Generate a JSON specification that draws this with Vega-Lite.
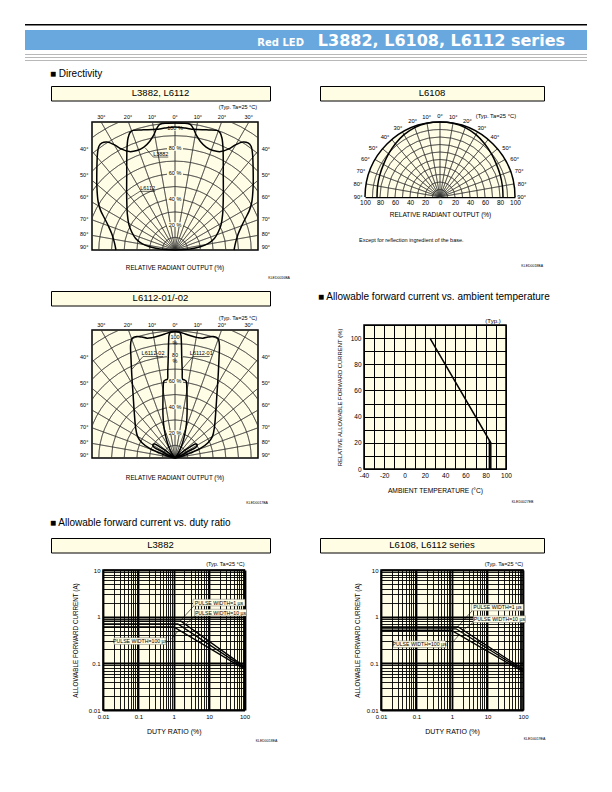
{
"$schema":"https://vega.github.io/schema/vega-lite/v6.json",
"padding":0,
"background":"white",
"spacing":0,
"bounds":"flush",
"config":{
 "view":{"stroke":null},
 "font":"Liberation Sans",
 "text":{"color":"black","font":"Liberation Sans"},
 "axis":{"labelFont":"Liberation Sans","titleFont":"Liberation Sans","labelColor":"black","titleColor":"black","titleFontWeight":"normal"}
},
"datasets":{
 "rings13":[{"r":10},{"r":20},{"r":30},{"r":40},{"r":50},{"r":60},{"r":70},{"r":80},{"r":90},{"r":100},{"r":110},{"r":120},{"r":130}],
 "rings10":[{"r":10},{"r":20},{"r":30},{"r":40},{"r":50},{"r":60},{"r":70},{"r":80},{"r":90}],
 "rad17":[{"a":-80},{"a":-70},{"a":-60},{"a":-50},{"a":-40},{"a":-30},{"a":-20},{"a":-10},{"a":0},{"a":10},{"a":20},{"a":30},{"a":40},{"a":50},{"a":60},{"a":70},{"a":80}],
 "ang":[{"t":"30°","x":-58,"y":104.7},{"t":"20°","x":-37,"y":104.7},{"t":"10°","x":-18,"y":104.7},{"t":"0°","x":0,"y":104.7},{"t":"10°","x":18,"y":104.7},{"t":"20°","x":37,"y":104.7},{"t":"30°","x":58,"y":104.7},
  {"t":"40°","x":-71.5,"y":79.5},{"t":"50°","x":-71.5,"y":59.1},{"t":"60°","x":-71.5,"y":41.7},{"t":"70°","x":-71.5,"y":24.4},{"t":"80°","x":-71.5,"y":12.6},{"t":"90°","x":-71.5,"y":2.4},
  {"t":"40°","x":71.5,"y":79.5},{"t":"50°","x":71.5,"y":59.1},{"t":"60°","x":71.5,"y":41.7},{"t":"70°","x":71.5,"y":24.4},{"t":"80°","x":71.5,"y":12.6},{"t":"90°","x":71.5,"y":2.4}],
 "ang8":[{"t":"0°","x":0,"y":108.4},{"t":"10°","x":-17.7,"y":107},{"t":"10°","x":17.7,"y":107},{"t":"20°","x":-36.5,"y":101.3},{"t":"20°","x":36.5,"y":101.3},{"t":"30°","x":-56,"y":92.4},{"t":"30°","x":56,"y":92.4},{"t":"40°","x":-73.3,"y":79.5},{"t":"40°","x":73.3,"y":79.5},{"t":"50°","x":-89,"y":65.7},{"t":"50°","x":89,"y":65.7},{"t":"60°","x":-99.5,"y":51},{"t":"60°","x":99.5,"y":51},{"t":"70°","x":-105.5,"y":34.7},{"t":"70°","x":105.5,"y":34.7},{"t":"80°","x":-109.5,"y":17.7},{"t":"80°","x":109.5,"y":17.7},{"t":"90°","x":-109,"y":0},{"t":"90°","x":109,"y":0}],
 "p1pct":[{"t":"100 %","x":0,"y":95.8},{"t":"80 %","x":0,"y":80},{"t":"60 %","x":0,"y":60.3},{"t":"40 %","x":0,"y":40.3},{"t":"20 %","x":0,"y":20}],
 "p3pct":[{"t":"100\n%","x":0,"y":95},{"t":"80\n%","x":0,"y":81},{"t":"60 %","x":0,"y":60.3},{"t":"40 %","x":0,"y":40.3},{"t":"20 %","x":0,"y":20}],
 "p1lead":[{"g":"a","i":0,"x":-23.5,"y":80.5},{"g":"a","i":1,"x":-17.1,"y":73.2},{"g":"a","i":2,"x":-5.3,"y":73.2},{"g":"b","i":0,"x":-37.3,"y":40},{"g":"b","i":1,"x":-27.6,"y":46.2},{"g":"b","i":2,"x":-15.7,"y":46.2}],
 "p1ann":[{"t":"L3882","x":-11.2,"y":75.9},{"t":"L6112","x":-21.6,"y":48.9}],
 "p3lead":[{"g":"a","i":0,"x":-33.8,"y":70},{"g":"a","i":1,"x":-25.2,"y":79.9},{"g":"a","i":2,"x":-9.4,"y":79.9},{"g":"b","i":0,"x":5.6,"y":70},{"g":"b","i":1,"x":14.2,"y":79.9},{"g":"b","i":2,"x":27.3,"y":79.9}],
 "p3ann":[{"t":"L6112-02","x":-17.3,"y":82.6},{"t":"L6112-01","x":20.7,"y":82.6}],
 "p1c":[
  {"c":"A","i":0,"x":-46.5,"y":0},{"c":"A","i":1,"x":-47.5,"y":5},{"c":"A","i":2,"x":-49.5,"y":12},{"c":"A","i":3,"x":-52.5,"y":19},{"c":"A","i":4,"x":-55.5,"y":25},{"c":"A","i":5,"x":-58.5,"y":31},{"c":"A","i":6,"x":-60.5,"y":38},{"c":"A","i":7,"x":-61.5,"y":50},{"c":"A","i":8,"x":-61.5,"y":65},{"c":"A","i":9,"x":-61,"y":76},{"c":"A","i":10,"x":-60,"y":81.5},{"c":"A","i":11,"x":-57.5,"y":84.3},{"c":"A","i":12,"x":-53.5,"y":85},{"c":"A","i":13,"x":-48,"y":83},{"c":"A","i":14,"x":-42,"y":79.5},{"c":"A","i":15,"x":-36,"y":77.5},{"c":"A","i":16,"x":-30,"y":78.3},{"c":"A","i":17,"x":-24.5,"y":81},{"c":"A","i":18,"x":-20,"y":85.5},{"c":"A","i":19,"x":-17,"y":90},{"c":"A","i":20,"x":-14.5,"y":95.5},{"c":"A","i":21,"x":-12,"y":99},{"c":"A","i":22,"x":-6,"y":99.8},{"c":"A","i":23,"x":0,"y":100},
  {"c":"A","i":24,"x":6,"y":99.8},{"c":"A","i":25,"x":12,"y":99},{"c":"A","i":26,"x":14.5,"y":95.5},{"c":"A","i":27,"x":17,"y":90},{"c":"A","i":28,"x":20,"y":85.5},{"c":"A","i":29,"x":24.5,"y":81},{"c":"A","i":30,"x":30,"y":78.3},{"c":"A","i":31,"x":36,"y":77.5},{"c":"A","i":32,"x":42,"y":79.5},{"c":"A","i":33,"x":48,"y":83},{"c":"A","i":34,"x":53.5,"y":85},{"c":"A","i":35,"x":57.5,"y":84.3},{"c":"A","i":36,"x":60,"y":81.5},{"c":"A","i":37,"x":61,"y":76},{"c":"A","i":38,"x":61.5,"y":65},{"c":"A","i":39,"x":61.5,"y":50},{"c":"A","i":40,"x":60.5,"y":38},{"c":"A","i":41,"x":58.5,"y":31},{"c":"A","i":42,"x":55.5,"y":25},{"c":"A","i":43,"x":52.5,"y":19},{"c":"A","i":44,"x":49.5,"y":12},{"c":"A","i":45,"x":47.5,"y":5},{"c":"A","i":46,"x":46.5,"y":0},
  {"c":"B","i":0,"x":0,"y":0},{"c":"B","i":1,"x":-12,"y":0.8},{"c":"B","i":2,"x":-20,"y":2.6},{"c":"B","i":3,"x":-26,"y":5},{"c":"B","i":4,"x":-31,"y":9},{"c":"B","i":5,"x":-34,"y":14},{"c":"B","i":6,"x":-36.3,"y":20},{"c":"B","i":7,"x":-37.5,"y":28},{"c":"B","i":8,"x":-38,"y":40},{"c":"B","i":9,"x":-38,"y":60},{"c":"B","i":10,"x":-37.8,"y":80},{"c":"B","i":11,"x":-37,"y":88},{"c":"B","i":12,"x":-35.5,"y":92.3},{"c":"B","i":13,"x":-33,"y":94.2},{"c":"B","i":14,"x":-25,"y":94.6},{"c":"B","i":15,"x":-15,"y":95},{"c":"B","i":16,"x":-8,"y":96},{"c":"B","i":17,"x":0,"y":96.8},
  {"c":"B","i":18,"x":8,"y":96},{"c":"B","i":19,"x":15,"y":95},{"c":"B","i":20,"x":25,"y":94.6},{"c":"B","i":21,"x":33,"y":94.2},{"c":"B","i":22,"x":35.5,"y":92.3},{"c":"B","i":23,"x":37,"y":88},{"c":"B","i":24,"x":37.8,"y":80},{"c":"B","i":25,"x":38,"y":60},{"c":"B","i":26,"x":38,"y":40},{"c":"B","i":27,"x":37.5,"y":28},{"c":"B","i":28,"x":36.3,"y":20},{"c":"B","i":29,"x":34,"y":14},{"c":"B","i":30,"x":31,"y":9},{"c":"B","i":31,"x":26,"y":5},{"c":"B","i":32,"x":20,"y":2.6},{"c":"B","i":33,"x":12,"y":0.8},{"c":"B","i":34,"x":0,"y":0}],
 "p3c":[
  {"c":"02","i":0,"x":0,"y":0},{"c":"02","i":1,"x":-5,"y":1.2},{"c":"02","i":2,"x":-12,"y":3.8},{"c":"02","i":3,"x":-20,"y":7.5},{"c":"02","i":4,"x":-26,"y":12},{"c":"02","i":5,"x":-29.5,"y":17},{"c":"02","i":6,"x":-31,"y":24},{"c":"02","i":7,"x":-32,"y":35},{"c":"02","i":8,"x":-33,"y":50},{"c":"02","i":9,"x":-34,"y":65},{"c":"02","i":10,"x":-34.7,"y":80},{"c":"02","i":11,"x":-35,"y":88},{"c":"02","i":12,"x":-34.5,"y":92.5},{"c":"02","i":13,"x":-33,"y":94.8},{"c":"02","i":14,"x":-30,"y":95.6},{"c":"02","i":15,"x":-26,"y":95.2},{"c":"02","i":16,"x":-22,"y":94.4},{"c":"02","i":17,"x":-18,"y":94.8},{"c":"02","i":18,"x":-13,"y":96},{"c":"02","i":19,"x":-8,"y":97.7},{"c":"02","i":20,"x":-4,"y":99},{"c":"02","i":21,"x":0,"y":99.5},
  {"c":"02","i":22,"x":4,"y":99},{"c":"02","i":23,"x":8,"y":97.7},{"c":"02","i":24,"x":13,"y":96},{"c":"02","i":25,"x":18,"y":94.8},{"c":"02","i":26,"x":22,"y":94.4},{"c":"02","i":27,"x":26,"y":95.2},{"c":"02","i":28,"x":30,"y":95.6},{"c":"02","i":29,"x":33,"y":94.8},{"c":"02","i":30,"x":34.5,"y":92.5},{"c":"02","i":31,"x":35,"y":88},{"c":"02","i":32,"x":34.7,"y":80},{"c":"02","i":33,"x":34,"y":65},{"c":"02","i":34,"x":33,"y":50},{"c":"02","i":35,"x":32,"y":35},{"c":"02","i":36,"x":31,"y":24},{"c":"02","i":37,"x":29.5,"y":17},{"c":"02","i":38,"x":26,"y":12},{"c":"02","i":39,"x":20,"y":7.5},{"c":"02","i":40,"x":12,"y":3.8},{"c":"02","i":41,"x":5,"y":1.2},{"c":"02","i":42,"x":0,"y":0},
  {"c":"01","i":0,"x":0,"y":0},{"c":"01","i":1,"x":-1.5,"y":2},{"c":"01","i":2,"x":-3.5,"y":5.5},{"c":"01","i":3,"x":-6,"y":12},{"c":"01","i":4,"x":-7.8,"y":19},{"c":"01","i":5,"x":-9,"y":27},{"c":"01","i":6,"x":-9.5,"y":35},{"c":"01","i":7,"x":-9.5,"y":45},{"c":"01","i":8,"x":-9.3,"y":55},{"c":"01","i":9,"x":-8.8,"y":60.5},{"c":"01","i":10,"x":-7.5,"y":61.5},{"c":"01","i":11,"x":-6,"y":62},{"c":"01","i":12,"x":-5.7,"y":68},{"c":"01","i":13,"x":-5.3,"y":80},{"c":"01","i":14,"x":-5,"y":92},{"c":"01","i":15,"x":-4.6,"y":97},{"c":"01","i":16,"x":-3.5,"y":99.2},{"c":"01","i":17,"x":0,"y":99.6},
  {"c":"01","i":18,"x":3.5,"y":99.2},{"c":"01","i":19,"x":4.6,"y":97},{"c":"01","i":20,"x":5,"y":92},{"c":"01","i":21,"x":5.3,"y":80},{"c":"01","i":22,"x":5.7,"y":68},{"c":"01","i":23,"x":6,"y":62},{"c":"01","i":24,"x":7.5,"y":61.5},{"c":"01","i":25,"x":8.8,"y":60.5},{"c":"01","i":26,"x":9.3,"y":55},{"c":"01","i":27,"x":9.5,"y":45},{"c":"01","i":28,"x":9.5,"y":35},{"c":"01","i":29,"x":9,"y":27},{"c":"01","i":30,"x":7.8,"y":19},{"c":"01","i":31,"x":6,"y":12},{"c":"01","i":32,"x":3.5,"y":5.5},{"c":"01","i":33,"x":1.5,"y":2},{"c":"01","i":34,"x":0,"y":0},
  {"c":"pL","i":0,"x":0,"y":0},{"c":"pL","i":1,"x":-6,"y":4.8},{"c":"pL","i":2,"x":-12,"y":8.8},{"c":"pL","i":3,"x":-16,"y":11},{"c":"pL","i":4,"x":-17.5,"y":10.5},{"c":"pL","i":5,"x":-16.5,"y":8.5},{"c":"pL","i":6,"x":-11,"y":5.5},{"c":"pL","i":7,"x":-5,"y":2.2},{"c":"pL","i":8,"x":0,"y":0},
  {"c":"pR","i":0,"x":0,"y":0},{"c":"pR","i":1,"x":6,"y":4.8},{"c":"pR","i":2,"x":12,"y":8.8},{"c":"pR","i":3,"x":16,"y":11},{"c":"pR","i":4,"x":17.5,"y":10.5},{"c":"pR","i":5,"x":16.5,"y":8.5},{"c":"pR","i":6,"x":11,"y":5.5},{"c":"pR","i":7,"x":5,"y":2.2},{"c":"pR","i":8,"x":0,"y":0}],
 "l8c":[{"i":0,"x":-84,"y":0},{"i":1,"x":-83.2,"y":14.7},{"i":2,"x":-80.3,"y":29.2},{"i":3,"x":-75.3,"y":43.5},{"i":4,"x":-68.6,"y":57.5},{"i":5,"x":-59.5,"y":70.9},{"i":6,"x":-48,"y":83.1},{"i":7,"x":-33.7,"y":92.6},{"i":8,"x":-17.3,"y":98.2},{"i":9,"x":0,"y":100},{"i":10,"x":17.3,"y":98.2},{"i":11,"x":33.7,"y":92.6},{"i":12,"x":48,"y":83.1},{"i":13,"x":59.5,"y":70.9},{"i":14,"x":68.6,"y":57.5},{"i":15,"x":75.3,"y":43.5},{"i":16,"x":80.3,"y":29.2},{"i":17,"x":83.2,"y":14.7},{"i":18,"x":84,"y":0}],
 "temp":[{"g":"a","i":0,"t":25,"p":100},{"g":"a","i":1,"t":85,"p":20},{"g":"a","i":2,"t":85,"p":0},{"g":"b","i":0,"t":83.6,"p":21.9},{"g":"b","i":1,"t":83.6,"p":0}],
 "log1":[{"pw":"1","d":0.01,"I":0.8},{"pw":"1","d":1.6,"I":0.8},{"pw":"1","d":100,"I":0.085},{"pw":"10","d":0.01,"I":0.7},{"pw":"10","d":1.3,"I":0.7},{"pw":"10","d":100,"I":0.08},{"pw":"100","d":0.01,"I":0.6},{"pw":"100","d":1.0,"I":0.6},{"pw":"100","d":100,"I":0.075}],
 "log1lab":[{"t":"PULSE WIDTH=1 µs","d":19,"I":2.0},{"t":"PULSE WIDTH=10 µs","d":21,"I":1.22},{"t":"PULSE WIDTH=100 µs","d":0.112,"I":0.30}],
 "log1lead":[{"g":"a","d":3.97,"I":1.8},{"g":"a","d":1.5,"I":0.8},{"g":"b","d":4.4,"I":1.12},{"g":"b","d":1.8,"I":0.6},{"g":"c","d":0.86,"I":0.33},{"g":"c","d":1.4,"I":0.52}],
 "log2":[{"pw":"1","d":0.01,"I":0.6},{"pw":"1","d":1.5,"I":0.6},{"pw":"1","d":100,"I":0.075},{"pw":"10","d":0.01,"I":0.55},{"pw":"10","d":1.3,"I":0.55},{"pw":"10","d":100,"I":0.07},{"pw":"100","d":0.01,"I":0.5},{"pw":"100","d":1.0,"I":0.5},{"pw":"100","d":100,"I":0.066}],
 "log2lab":[{"t":"PULSE WIDTH=1 µs","d":19,"I":1.58},{"t":"PULSE WIDTH=10 µs","d":21.6,"I":0.885},{"t":"PULSE WIDTH=100 µs","d":0.122,"I":0.257}],
 "log2lead":[{"g":"a","d":3.77,"I":1.36},{"g":"a","d":1.43,"I":0.6},{"g":"b","d":4.6,"I":0.82},{"g":"b","d":1.77,"I":0.47},{"g":"c","d":1.03,"I":0.28},{"g":"c","d":1.6,"I":0.41}]
},
"vconcat":[
 {"width":612,"height":23.5,"data":{"values":[]},"mark":"point"},
 {"spacing":0,"bounds":"flush","hconcat":[{"width":25,"height":1,"data":{"values":[]},"mark":"point"},{"width":562,"height":1.5,"view":{"fill":"black","stroke":null},"data":{"values":[]},"mark":"point"}]},
 {"width":1,"height":6,"data":{"values":[]},"mark":"point"},
 {"spacing":0,"bounds":"flush","hconcat":[{"width":25,"height":1,"data":{"values":[]},"mark":"point"},
   {"width":562,"height":20,"view":{"fill":"#68a8de","stroke":null},"data":{"values":[{}]},"layer":[
     {"mark":{"type":"text","text":"L3882, L6108, L6112 series","align":"right","baseline":"alphabetic","x":540,"y":15.5,"font":"DejaVu Sans","fontWeight":"bold","fontSize":16,"color":"white"}},
     {"mark":{"type":"text","text":"Red LED","align":"right","baseline":"alphabetic","x":279,"y":15.5,"font":"DejaVu Sans","fontWeight":"bold","fontSize":10,"color":"white"}}]}]},
 {"width":1,"height":24,"data":{"values":[]},"mark":"point"},
 {"spacing":0,"bounds":"flush","hconcat":[{"width":25,"height":1,"data":{"values":[]},"mark":"point"},{"width":562,"height":0.8,"view":{"fill":"#a0a0a0","stroke":null},"data":{"values":[]},"mark":"point"}]},
 {"width":1,"height":2.5,"data":{"values":[]},"mark":"point"},
 {"spacing":0,"bounds":"flush","hconcat":[{"width":25,"height":1,"data":{"values":[]},"mark":"point"},{"width":562,"height":0.8,"view":{"fill":"#a0a0a0","stroke":null},"data":{"values":[]},"mark":"point"}]},
 {"width":1,"height":2.5,"data":{"values":[]},"mark":"point"},
 {"spacing":0,"bounds":"flush","hconcat":[{"width":25,"height":1,"data":{"values":[]},"mark":"point"},{"width":562,"height":0.8,"view":{"fill":"#a0a0a0","stroke":null},"data":{"values":[]},"mark":"point"}]},
 {"width":1,"height":7.5,"data":{"values":[]},"mark":"point"},
 {"spacing":0,"bounds":"flush","hconcat":[{"width":50,"height":1,"data":{"values":[]},"mark":"point"},
   {"width":200,"height":12,"data":{"values":[{}]},"mark":{"type":"text","text":"■ Directivity","align":"left","baseline":"middle","x":0,"font":"Liberation Sans","fontSize":10,"fontWeight":"normal","color":"black"}}]},
 {"width":1,"height":17.5,"data":{"values":[]},"mark":"point"},
 {"spacing":0,"bounds":"flush","hconcat":[{"width":51,"height":1,"data":{"values":[]},"mark":"point"},
   {"width":219,"height":14.5,"view":{"fill":"#fffde3","stroke":"black","strokeWidth":1},"data":{"values":[{}]},"mark":{"type":"text","text":"L3882, L6112","font":"Liberation Sans","fontSize":9.5,"fontWeight":"normal","baseline":"middle","align":"center"}},
   {"width":49.5,"height":1,"data":{"values":[]},"mark":"point"},
   {"width":224,"height":14.5,"view":{"fill":"#fffde3","stroke":"black","strokeWidth":1},"data":{"values":[{}]},"mark":{"type":"text","text":"L6108","font":"Liberation Sans","fontSize":9.5,"fontWeight":"normal","baseline":"middle","align":"center"}}]},
 {"width":1,"height":35.5,"data":{"values":[]},"mark":"point"},
 {"spacing":0,"bounds":"flush","hconcat":[{"width":92,"height":1,"data":{"values":[]},"mark":"point"},
   {"width":166,"height":128,"view":{"fill":"#fffde6","stroke":"black","strokeWidth":1.5},
    "layer":[
     {"data":{"name":"rings13"},"mark":{"type":"arc","clip":true,"theta":-1.5708,"theta2":1.5708,"filled":false,"color":"#333","strokeWidth":0.55},
      "encoding":{"x":{"datum":0,"type":"quantitative","scale":{"domain":[-65.35,65.35],"nice":false,"zero":false},"axis":null},"y":{"datum":0,"type":"quantitative","scale":{"domain":[0,100.8],"nice":false,"zero":false},"axis":null},
       "radius":{"field":"r","type":"quantitative","scale":{"type":"linear","domain":[0,100],"range":[0,127],"zero":true,"nice":false},"stack":null},"radius2":{"field":"r"}}},
     {"data":{"name":"rad17"},"mark":{"type":"arc","clip":true,"radius":300,"filled":false,"color":"#333","strokeWidth":0.55},
      "encoding":{"x":{"datum":0,"type":"quantitative","scale":{"domain":[-65.35,65.35],"nice":false,"zero":false},"axis":null},"y":{"datum":0,"type":"quantitative","scale":{"domain":[0,100.8],"nice":false,"zero":false},"axis":null},
       "theta":{"field":"a","type":"quantitative","scale":{"domain":[-90,90],"range":[-1.5708,1.5708],"nice":false,"zero":false},"stack":null},"theta2":{"field":"a"}}},
     {"encoding":{"x":{"field":"x","type":"quantitative","scale":{"domain":[-65.35,65.35],"nice":false,"zero":false},"axis":null},"y":{"field":"y","type":"quantitative","scale":{"domain":[0,100.8],"nice":false,"zero":false},"axis":null}},
      "layer":[
       {"data":{"name":"p1pct"},"mark":{"type":"point","shape":"M-1,-0.3H1V0.3H-1Z","size":256,"filled":true,"color":"#fffde6","opacity":1,"strokeWidth":0}},
       {"data":{"name":"p1pct"},"mark":{"type":"text","fontSize":5.5,"baseline":"middle","lineBreak":"\n"},"encoding":{"text":{"field":"t"}}},
       {"data":{"name":"p1c"},"mark":{"type":"line","color":"black","strokeWidth":1.5,"interpolate":"catmull-rom"},"encoding":{"detail":{"field":"c"},"order":{"field":"i","type":"quantitative"}}},
       {"data":{"name":"p1lead"},"mark":{"type":"line","color":"black","strokeWidth":0.6},"encoding":{"detail":{"field":"g"},"order":{"field":"i","type":"quantitative"}}},
       {"data":{"name":"p1ann"},"mark":{"type":"text","fontSize":5.5,"baseline":"middle"},"encoding":{"text":{"field":"t"}}},
       {"data":{"name":"ang"},"mark":{"type":"text","fontSize":5.5,"baseline":"middle"},"encoding":{"text":{"field":"t"}}},
       {"data":{"values":[{"t":"(Typ. Ta=25 °C)","x":64.6,"y":112.6}]},"mark":{"type":"text","fontSize":5.5,"align":"right","baseline":"middle"},"encoding":{"text":{"field":"t"}}},
       {"data":{"values":[{"t":"RELATIVE RADIANT OUTPUT (%)","x":0,"y":-14.2}]},"mark":{"type":"text","fontSize":6.3,"baseline":"middle"},"encoding":{"text":{"field":"t"}}},
       {"data":{"values":[{"t":"KLED0016BA","x":90.5,"y":-22}]},"mark":{"type":"text","fontSize":3.5,"align":"right","baseline":"middle"},"encoding":{"text":{"field":"t"}}}
      ]}
   ]},
   {"width":107,"height":1,"data":{"values":[]},"mark":"point"},
   {"width":150,"height":75,
    "layer":[
     {"data":{"values":[{}]},"mark":{"type":"arc","theta":-1.5708,"theta2":1.5708,"radius":75,"color":"#fffde6"},
      "encoding":{"x":{"datum":0,"type":"quantitative","scale":{"domain":[-100,100],"nice":false},"axis":{"orient":"bottom","values":[-100,-80,-60,-40,-20,0,20,40,60,80,100],"labelExpr":"abs(datum.value)","ticks":false,"grid":false,"domain":true,"domainColor":"black","domainWidth":1.5,"labelFontSize":6.5,"labelPadding":2,"labelFlush":false,"labelOverlap":false,"labelBound":false,"title":"RELATIVE RADIANT OUTPUT (%)","titleFontSize":6.5,"titlePadding":6}},"y":{"datum":0,"type":"quantitative","scale":{"domain":[0,100],"nice":false},"axis":null}}},
     {"data":{"name":"rings10"},"mark":{"type":"arc","theta":-1.5708,"theta2":1.5708,"filled":false,"color":"#333","strokeWidth":0.55},
      "encoding":{"x":{"datum":0,"type":"quantitative","scale":{"domain":[-100,100],"nice":false},"axis":{"orient":"bottom","values":[-100,-80,-60,-40,-20,0,20,40,60,80,100],"labelExpr":"abs(datum.value)","ticks":false,"grid":false,"domain":true,"domainColor":"black","domainWidth":1.5,"labelFontSize":6.5,"labelPadding":2,"labelFlush":false,"labelOverlap":false,"labelBound":false,"title":"RELATIVE RADIANT OUTPUT (%)","titleFontSize":6.5,"titlePadding":6}},"y":{"datum":0,"type":"quantitative","scale":{"domain":[0,100],"nice":false},"axis":null},
       "radius":{"field":"r","type":"quantitative","scale":{"type":"linear","domain":[0,100],"range":[0,75],"zero":true,"nice":false},"stack":null},"radius2":{"field":"r"}}},
     {"data":{"name":"rad17"},"mark":{"type":"arc","radius":75,"filled":false,"color":"#333","strokeWidth":0.55},
      "encoding":{"x":{"datum":0,"type":"quantitative","scale":{"domain":[-100,100],"nice":false},"axis":{"orient":"bottom","values":[-100,-80,-60,-40,-20,0,20,40,60,80,100],"labelExpr":"abs(datum.value)","ticks":false,"grid":false,"domain":true,"domainColor":"black","domainWidth":1.5,"labelFontSize":6.5,"labelPadding":2,"labelFlush":false,"labelOverlap":false,"labelBound":false,"title":"RELATIVE RADIANT OUTPUT (%)","titleFontSize":6.5,"titlePadding":6}},"y":{"datum":0,"type":"quantitative","scale":{"domain":[0,100],"nice":false},"axis":null},
       "theta":{"field":"a","type":"quantitative","scale":{"domain":[-90,90],"range":[-1.5708,1.5708],"nice":false,"zero":false},"stack":null},"theta2":{"field":"a"}}},
     {"data":{"values":[{}]},"mark":{"type":"arc","theta":-1.5708,"theta2":1.5708,"radius":75,"radius2":75,"filled":false,"color":"black","strokeWidth":1.5},
      "encoding":{"x":{"datum":0,"type":"quantitative","scale":{"domain":[-100,100],"nice":false},"axis":{"orient":"bottom","values":[-100,-80,-60,-40,-20,0,20,40,60,80,100],"labelExpr":"abs(datum.value)","ticks":false,"grid":false,"domain":true,"domainColor":"black","domainWidth":1.5,"labelFontSize":6.5,"labelPadding":2,"labelFlush":false,"labelOverlap":false,"labelBound":false,"title":"RELATIVE RADIANT OUTPUT (%)","titleFontSize":6.5,"titlePadding":6}},"y":{"datum":0,"type":"quantitative","scale":{"domain":[0,100],"nice":false},"axis":null}}},
     {"encoding":{"x":{"field":"x","type":"quantitative","scale":{"domain":[-100,100],"nice":false},"axis":{"orient":"bottom","values":[-100,-80,-60,-40,-20,0,20,40,60,80,100],"labelExpr":"abs(datum.value)","ticks":false,"grid":false,"domain":true,"domainColor":"black","domainWidth":1.5,"labelFontSize":6.5,"labelPadding":2,"labelFlush":false,"labelOverlap":false,"labelBound":false,"title":"RELATIVE RADIANT OUTPUT (%)","titleFontSize":6.5,"titlePadding":6}},"y":{"field":"y","type":"quantitative","scale":{"domain":[0,100],"nice":false},"axis":null}},
      "layer":[
       {"data":{"name":"l8c"},"mark":{"type":"line","color":"black","strokeWidth":1.5,"interpolate":"catmull-rom"},"encoding":{"order":{"field":"i","type":"quantitative"}}},
       {"data":{"name":"ang8"},"mark":{"type":"text","fontSize":5.8,"baseline":"middle"},"encoding":{"text":{"field":"t"}}},
       {"data":{"values":[{"t":"(Typ. Ta=25 °C)","x":47.6,"y":108}]},"mark":{"type":"text","fontSize":5.8,"align":"left","baseline":"middle"},"encoding":{"text":{"field":"t"}}},
       {"data":{"values":[{"t":"Except for reflection ingredient of the base.","x":-108,"y":-57.3}]},"mark":{"type":"text","fontSize":5.5,"align":"left","baseline":"middle"},"encoding":{"text":{"field":"t"}}},
       {"data":{"values":[{"t":"KLED0018BA","x":137.3,"y":-91.6}]},"mark":{"type":"text","fontSize":3.5,"align":"right","baseline":"middle"},"encoding":{"text":{"field":"t"}}}
      ]}
   ]}]},
 {"width":1,"height":169,"data":{"values":[]},"mark":"point"},
 {"spacing":0,"bounds":"flush","hconcat":[{"width":51,"height":1,"data":{"values":[]},"mark":"point"},
   {"width":219,"height":14.5,"view":{"fill":"#fffde3","stroke":"black","strokeWidth":1},"data":{"values":[{}]},"mark":{"type":"text","text":"L6112-01/-02","font":"Liberation Sans","fontSize":9.5,"fontWeight":"normal","baseline":"middle","align":"center"}},
   {"width":48,"height":1,"data":{"values":[]},"mark":"point"},
   {"width":260,"height":12,"data":{"values":[{}]},"mark":{"type":"text","text":"■ Allowable forward current vs. ambient temperature","align":"left","baseline":"middle","x":0,"font":"Liberation Sans","fontSize":10,"fontWeight":"normal","color":"black"}}]},
 {"width":1,"height":34,"data":{"values":[]},"mark":"point"},
 {"spacing":0,"bounds":"flush","hconcat":[{"width":364,"height":1,"data":{"values":[]},"mark":"point"},
   {"width":142,"height":144,"view":{"fill":"#fffde6","stroke":"black","strokeWidth":1.5},
    "encoding":{"x":{"field":"t","type":"quantitative","scale":{"domain":[-40,100],"nice":false},"axis":{"values":[-40,-30,-20,-10,0,10,20,30,40,50,60,70,80,90,100],"labelExpr":"datum.value % 20 == 0 ? '' + datum.value : ''","grid":true,"gridColor":"black","gridWidth":1,"gridOpacity":1,"ticks":false,"domain":false,"labelFontSize":6.5,"labelPadding":3,"labelFlush":false,"labelOverlap":false,"labelBound":false,"title":"AMBIENT TEMPERATURE (°C)","titleFontSize":6.7,"titlePadding":9}},
     "y":{"field":"p","type":"quantitative","scale":{"domain":[0,110],"nice":false},"axis":{"values":[0,10,20,30,40,50,60,70,80,90,100,110],"labelExpr":"datum.value % 20 == 0 && datum.value <= 100 ? '' + datum.value : ''","grid":true,"gridColor":"black","gridWidth":1,"gridOpacity":1,"ticks":false,"domain":false,"labelFontSize":6.5,"labelPadding":3,"labelFlush":false,"labelOverlap":false,"labelBound":false,"title":"RELATIVE ALLOWABLE FORWARD CURRENT (%)","titleFontSize":5.9,"titlePadding":8}}},
    "layer":[
     {"data":{"name":"temp"},"mark":{"type":"line","color":"black","strokeWidth":1.5},"encoding":{"detail":{"field":"g"},"order":{"field":"i","type":"quantitative"}}},
     {"data":{"values":[{"s":"(Typ.)","t":87.2,"p":113}]},"mark":{"type":"text","fontSize":6,"baseline":"middle"},"encoding":{"text":{"field":"s"}}},
     {"data":{"values":[{"s":"KLED0027EB","t":127,"p":-25.2}]},"mark":{"type":"text","fontSize":3.5,"align":"right","baseline":"middle"},"encoding":{"text":{"field":"s"}}}
   ]}]},
 {"width":1,"height":4.5,"data":{"values":[]},"mark":"point"},
 {"spacing":0,"bounds":"flush","hconcat":[{"width":92,"height":1,"data":{"values":[]},"mark":"point"},
    {"width":166,"height":128,"view":{"fill":"#fffde6","stroke":"black","strokeWidth":1.5},
     "layer":[
     {"data":{"name":"rings13"},"mark":{"type":"arc","clip":true,"theta":-1.5708,"theta2":1.5708,"filled":false,"color":"#333","strokeWidth":0.55},
      "encoding":{"x":{"datum":0,"type":"quantitative","scale":{"domain":[-65.35,65.35],"nice":false,"zero":false},"axis":null},"y":{"datum":0,"type":"quantitative","scale":{"domain":[0,100.8],"nice":false,"zero":false},"axis":null},
       "radius":{"field":"r","type":"quantitative","scale":{"type":"linear","domain":[0,100],"range":[0,127],"zero":true,"nice":false},"stack":null},"radius2":{"field":"r"}}},
     {"data":{"name":"rad17"},"mark":{"type":"arc","clip":true,"radius":300,"filled":false,"color":"#333","strokeWidth":0.55},
      "encoding":{"x":{"datum":0,"type":"quantitative","scale":{"domain":[-65.35,65.35],"nice":false,"zero":false},"axis":null},"y":{"datum":0,"type":"quantitative","scale":{"domain":[0,100.8],"nice":false,"zero":false},"axis":null},
       "theta":{"field":"a","type":"quantitative","scale":{"domain":[-90,90],"range":[-1.5708,1.5708],"nice":false,"zero":false},"stack":null},"theta2":{"field":"a"}}},
     {"encoding":{"x":{"field":"x","type":"quantitative","scale":{"domain":[-65.35,65.35],"nice":false,"zero":false},"axis":null},"y":{"field":"y","type":"quantitative","scale":{"domain":[0,100.8],"nice":false,"zero":false},"axis":null}},
      "layer":[
       {"data":{"name":"p3pct"},"mark":{"type":"point","shape":"M-1,-0.3H1V0.3H-1Z","size":256,"filled":true,"color":"#fffde6","opacity":1,"strokeWidth":0}},
       {"data":{"name":"p3pct"},"mark":{"type":"text","fontSize":5.5,"baseline":"middle","lineBreak":"\n","lineHeight":6},"encoding":{"text":{"field":"t"}}},
       {"data":{"name":"p3c"},"mark":{"type":"line","color":"black","strokeWidth":1.5,"interpolate":"catmull-rom"},"encoding":{"detail":{"field":"c"},"order":{"field":"i","type":"quantitative"}}},
       {"data":{"name":"p3lead"},"mark":{"type":"line","color":"black","strokeWidth":0.6},"encoding":{"detail":{"field":"g"},"order":{"field":"i","type":"quantitative"}}},
       {"data":{"name":"p3ann"},"mark":{"type":"text","fontSize":5.5,"baseline":"middle"},"encoding":{"text":{"field":"t"}}},
       {"data":{"name":"ang"},"mark":{"type":"text","fontSize":5.5,"baseline":"middle"},"encoding":{"text":{"field":"t"}}},
       {"data":{"values":[{"t":"(Typ. Ta=25 °C)","x":64.6,"y":110.6}]},"mark":{"type":"text","fontSize":5.5,"align":"right","baseline":"middle"},"encoding":{"text":{"field":"t"}}},
       {"data":{"values":[{"t":"RELATIVE RADIANT OUTPUT (%)","x":0,"y":-16.1}]},"mark":{"type":"text","fontSize":6.3,"baseline":"middle"},"encoding":{"text":{"field":"t"}}},
       {"data":{"values":[{"t":"KLED0017BA","x":73.2,"y":-35.8}]},"mark":{"type":"text","fontSize":3.5,"align":"right","baseline":"middle"},"encoding":{"text":{"field":"t"}}}
      ]}
    ]}]},
 {"width":1,"height":186.5,"data":{"values":[]},"mark":"point"},
 {"spacing":0,"bounds":"flush","hconcat":[{"width":50,"height":1,"data":{"values":[]},"mark":"point"},
   {"width":300,"height":12,"data":{"values":[{}]},"mark":{"type":"text","text":"■ Allowable forward current vs. duty ratio","align":"left","baseline":"middle","x":0,"font":"Liberation Sans","fontSize":10,"fontWeight":"normal","color":"black"}}]},
 {"width":1,"height":21,"data":{"values":[]},"mark":"point"},
 {"spacing":0,"bounds":"flush","hconcat":[{"width":51,"height":1,"data":{"values":[]},"mark":"point"},
   {"width":219,"height":14.5,"view":{"fill":"#fffde3","stroke":"black","strokeWidth":1},"data":{"values":[{}]},"mark":{"type":"text","text":"L3882","font":"Liberation Sans","fontSize":9.5,"fontWeight":"normal","baseline":"middle","align":"center"}},
   {"width":49.5,"height":1,"data":{"values":[]},"mark":"point"},
   {"width":224,"height":14.5,"view":{"fill":"#fffde3","stroke":"black","strokeWidth":1},"data":{"values":[{}]},"mark":{"type":"text","text":"L6108, L6112 series","font":"Liberation Sans","fontSize":9.5,"fontWeight":"normal","baseline":"middle","align":"center"}}]},
 {"width":1,"height":32,"data":{"values":[]},"mark":"point"},
 {"spacing":0,"bounds":"flush","hconcat":[{"width":102.5,"height":1,"data":{"values":[]},"mark":"point"},
   {"width":141.5,"height":140,"view":{"fill":"#fffde6","stroke":"black","strokeWidth":1.5},
    "encoding":{"x":{"field":"d","type":"quantitative","scale":{"type":"log","domain":[0.01,100],"nice":false},"axis":{"values":[0.01,0.02,0.03,0.04,0.05,0.06,0.07,0.08,0.09,0.1,0.2,0.3,0.4,0.5,0.6,0.7,0.8,0.9,1,2,3,4,5,6,7,8,9,10,20,30,40,50,60,70,80,90,100],"format":"~g","labelExpr":"indexof([0.01,0.1,1,10,100], datum.value) >= 0 ? datum.label : ''","grid":true,"gridColor":"black","gridOpacity":1,"gridWidth":{"condition":{"test":"indexof([0.01,0.1,1,10,100], datum.value) >= 0","value":1.8},"value":0.9},"ticks":false,"domain":false,"labelFontSize":6,"labelPadding":3,"labelFlush":false,"labelOverlap":false,"labelBound":false,"title":"DUTY RATIO (%)","titleFontSize":7,"titlePadding":8}},
     "y":{"field":"I","type":"quantitative","scale":{"type":"log","domain":[0.01,10],"nice":false},"axis":{"values":[0.01,0.02,0.03,0.04,0.05,0.06,0.07,0.08,0.09,0.1,0.2,0.3,0.4,0.5,0.6,0.7,0.8,0.9,1,2,3,4,5,6,7,8,9,10],"format":"~g","labelExpr":"indexof([0.01,0.1,1,10], datum.value) >= 0 ? datum.label : ''","grid":true,"gridColor":"black","gridOpacity":1,"gridWidth":{"condition":{"test":"indexof([0.01,0.1,1,10], datum.value) >= 0","value":1.8},"value":0.9},"ticks":false,"domain":false,"labelFontSize":6,"labelPadding":3,"labelFlush":false,"labelOverlap":false,"labelBound":false,"title":"ALLOWABLE FORWARD CURRENT (A)","titleFontSize":6.3,"titlePadding":10}}},
    "layer":[
     {"data":{"name":"log1"},"mark":{"type":"line","color":"black","strokeWidth":1.3},"encoding":{"detail":{"field":"pw"}}},
     {"data":{"name":"log1lead"},"mark":{"type":"line","color":"black","strokeWidth":0.6},"encoding":{"detail":{"field":"g"}}},
     {"data":{"name":"log1lab"},"mark":{"type":"point","shape":"M-1,-0.13H1V0.13H-1Z","size":2704,"filled":true,"color":"#fffde6","opacity":1,"stroke":"#555","strokeWidth":0.4}},
     {"data":{"name":"log1lab"},"mark":{"type":"text","fontSize":5.2,"baseline":"middle"},"encoding":{"text":{"field":"t"}}},
     {"data":{"values":[{"t":"(Typ. Ta=25 °C)","d":100,"I":13.5}]},"mark":{"type":"text","fontSize":5.5,"align":"right","baseline":"middle"},"encoding":{"text":{"field":"t"}}},
     {"data":{"values":[{"t":"KLED0018EA","d":846,"I":0.0022}]},"mark":{"type":"text","fontSize":3.5,"align":"right","baseline":"middle"},"encoding":{"text":{"field":"t"}}}
   ]},
   {"width":136,"height":1,"data":{"values":[]},"mark":"point"},
   {"width":142,"height":140,"view":{"fill":"#fffde6","stroke":"black","strokeWidth":1.5},
    "encoding":{"x":{"field":"d","type":"quantitative","scale":{"type":"log","domain":[0.01,100],"nice":false},"axis":{"values":[0.01,0.02,0.03,0.04,0.05,0.06,0.07,0.08,0.09,0.1,0.2,0.3,0.4,0.5,0.6,0.7,0.8,0.9,1,2,3,4,5,6,7,8,9,10,20,30,40,50,60,70,80,90,100],"format":"~g","labelExpr":"indexof([0.01,0.1,1,10,100], datum.value) >= 0 ? datum.label : ''","grid":true,"gridColor":"black","gridOpacity":1,"gridWidth":{"condition":{"test":"indexof([0.01,0.1,1,10,100], datum.value) >= 0","value":1.8},"value":0.9},"ticks":false,"domain":false,"labelFontSize":6,"labelPadding":3,"labelFlush":false,"labelOverlap":false,"labelBound":false,"title":"DUTY RATIO (%)","titleFontSize":7,"titlePadding":8}},
     "y":{"field":"I","type":"quantitative","scale":{"type":"log","domain":[0.01,10],"nice":false},"axis":{"values":[0.01,0.02,0.03,0.04,0.05,0.06,0.07,0.08,0.09,0.1,0.2,0.3,0.4,0.5,0.6,0.7,0.8,0.9,1,2,3,4,5,6,7,8,9,10],"format":"~g","labelExpr":"indexof([0.01,0.1,1,10], datum.value) >= 0 ? datum.label : ''","grid":true,"gridColor":"black","gridOpacity":1,"gridWidth":{"condition":{"test":"indexof([0.01,0.1,1,10], datum.value) >= 0","value":1.8},"value":0.9},"ticks":false,"domain":false,"labelFontSize":6,"labelPadding":3,"labelFlush":false,"labelOverlap":false,"labelBound":false,"title":"ALLOWABLE FORWARD CURRENT (A)","titleFontSize":6.3,"titlePadding":6}}},
    "layer":[
     {"data":{"name":"log2"},"mark":{"type":"line","color":"black","strokeWidth":1.3},"encoding":{"detail":{"field":"pw"}}},
     {"data":{"name":"log2lead"},"mark":{"type":"line","color":"black","strokeWidth":0.6},"encoding":{"detail":{"field":"g"}}},
     {"data":{"name":"log2lab"},"mark":{"type":"point","shape":"M-1,-0.13H1V0.13H-1Z","size":2704,"filled":true,"color":"#fffde6","opacity":1,"stroke":"#555","strokeWidth":0.4}},
     {"data":{"name":"log2lab"},"mark":{"type":"text","fontSize":5.2,"baseline":"middle"},"encoding":{"text":{"field":"t"}}},
     {"data":{"values":[{"t":"(Typ. Ta=25 °C)","d":100,"I":13.4}]},"mark":{"type":"text","fontSize":5.5,"align":"right","baseline":"middle"},"encoding":{"text":{"field":"t"}}},
     {"data":{"values":[{"t":"KLED0019EA","d":427,"I":0.0024}]},"mark":{"type":"text","fontSize":3.5,"align":"right","baseline":"middle"},"encoding":{"text":{"field":"t"}}}
   ]}]}
]
}
